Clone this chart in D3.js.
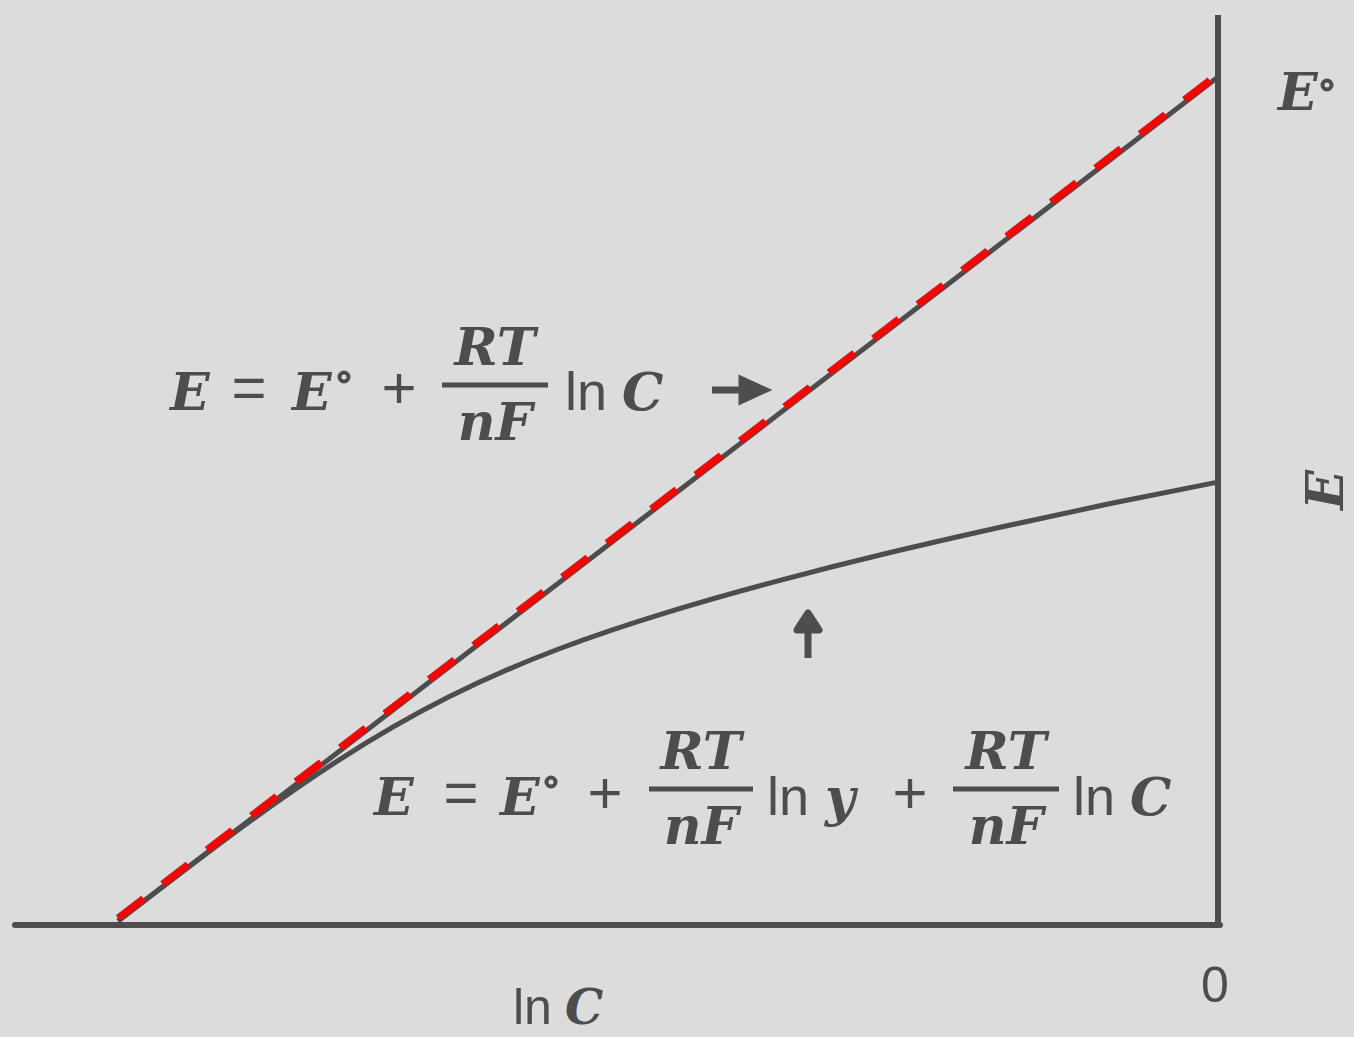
<!DOCTYPE html>
<html>
<head>
<meta charset="utf-8">
<script src="https://cdn.jsdelivr.net/npm/d3@7/dist/d3.min.js"></script>
<style>
  html, body { margin: 0; padding: 0; background: #dcdcdc; }
  svg { display: block; }
</style>
</head>
<body>
<div id="chart"></div>
<script>
// ---- data (lnC on x, E on y, E° = 1) ----
const lnC = [-10, -9, -8, -7, -6, -5, -4, -3, -2, -1, 0];
const eIdeal = [0, 0.1, 0.2, 0.3, 0.4, 0.5, 0.6, 0.7, 0.8, 0.9, 1.0];
const eReal = [0, 0.099, 0.19, 0.265, 0.322, 0.366, 0.403, 0.436, 0.466, 0.494, 0.52];
const xDomain = [-10, 0];
const yDomain = [0, 1];

const width = 1354;
const height = 1037;
const ink = '#4d4d4d';

const svg = d3.select('#chart').append('svg')
  .attr('width', width)
  .attr('height', height);

svg.append('rect')
  .attr('width', width)
  .attr('height', height)
  .attr('fill', '#dcdcdc');

const x = d3.scaleLinear().domain(xDomain).range([118, 1218]);
const y = d3.scaleLinear().domain(yDomain).range([921, 77]);

// ---- axes ----
const axisG = svg.append('g').attr('class', 'axes');
axisG.append('line')
  .attr('x1', 15).attr('x2', x(0) + 2)
  .attr('y1', 925).attr('y2', 925)
  .attr('stroke', ink).attr('stroke-width', 6).attr('stroke-linecap', 'round');
axisG.append('line')
  .attr('x1', x(0)).attr('x2', x(0))
  .attr('y1', 15).attr('y2', 928)
  .attr('stroke', ink).attr('stroke-width', 6);

// ---- lines ----
const line = d3.line().x(d => x(d[0])).y(d => y(d[1]));
const ideal = lnC.map((c, i) => [c, eIdeal[i]]);
const real = lnC.map((c, i) => [c, eReal[i]]);

svg.append('path')
  .attr('d', line(ideal))
  .attr('fill', 'none').attr('stroke', ink).attr('stroke-width', 5);

svg.append('path')
  .attr('d', d3.line().x(d => x(d[0])).y(d => y(d[1])).curve(d3.curveNatural)(real))
  .attr('fill', 'none').attr('stroke', ink).attr('stroke-width', 5);

svg.append('path')
  .attr('d', d3.line().x(d => x(d[0])).y(d => y(d[1]) - 3)(ideal))
  .attr('fill', 'none').attr('stroke', '#ff0000').attr('stroke-width', 7)
  .attr('stroke-dasharray', '32 24');

// ---- text helpers ----
const serif = '"DejaVu Serif", "Liberation Serif", serif';
const sans = '"Liberation Sans", "DejaVu Sans", sans-serif';

function txt(px, py, s, opts = {}) {
  return svg.append('text')
    .attr('x', px).attr('y', py)
    .attr('font-family', opts.family || serif)
    .attr('font-style', opts.italic === false ? 'normal' : 'italic')
    .attr('font-weight', opts.weight || 'bold')
    .attr('font-size', opts.size || 52)
    .attr('text-anchor', opts.anchor || 'start')
    .attr('fill', ink)
    .text(s);
}

// degree mark drawn as a bold little ring next to E
function degree(cx, cy) {
  svg.append('circle')
    .attr('cx', cx).attr('cy', cy).attr('r', 4.5)
    .attr('fill', 'none').attr('stroke', ink).attr('stroke-width', 4);
}

function frac(cx, barY, w) {
  svg.append('line')
    .attr('x1', cx - w / 2).attr('x2', cx + w / 2)
    .attr('y1', barY).attr('y2', barY)
    .attr('stroke', ink).attr('stroke-width', 5);
  txt(cx, barY - 20, 'RT', { anchor: 'middle' });
  txt(cx, barY + 55, 'nF', { anchor: 'middle' });
}

// equation 1
txt(170, 410, 'E');
txt(249, 408, '=', { family: sans, italic: false, anchor: 'middle', weight: 'normal', size: 60 });
txt(292, 410, 'E');
degree(344, 377);
txt(399, 408, '+', { family: sans, italic: false, anchor: 'middle', weight: 'normal', size: 60 });
frac(495, 385, 106);
txt(565, 410, 'ln', { family: sans, italic: false, weight: 'normal', size: 54 });
txt(622, 410, 'C');

// arrow to the right
svg.append('path')
  .attr('d', 'M712,390 L748,390 M742,380 L764,390 L742,400 Z')
  .attr('stroke', ink).attr('stroke-width', 7).attr('fill', ink);

// equation 2
txt(374, 815, 'E');
txt(461, 813, '=', { family: sans, italic: false, anchor: 'middle', weight: 'normal', size: 60 });
txt(500, 815, 'E');
degree(551, 782);
txt(605, 813, '+', { family: sans, italic: false, anchor: 'middle', weight: 'normal', size: 60 });
frac(701, 789, 104);
txt(767, 815, 'ln', { family: sans, italic: false, weight: 'normal', size: 54 });
txt(825, 815, 'y');
txt(910, 813, '+', { family: sans, italic: false, anchor: 'middle', weight: 'normal', size: 60 });
frac(1006, 789, 106);
txt(1073, 815, 'ln', { family: sans, italic: false, weight: 'normal', size: 54 });
txt(1130, 815, 'C');

// up arrow
svg.append('path')
  .attr('d', 'M808,658 L808,628 M797,630 L808,613 L819,630 Z')
  .attr('stroke', ink).attr('stroke-width', 7).attr('fill', ink)
  .attr('stroke-linejoin', 'round');

// axis labels
txt(1278, 110, 'E');
degree(1327, 85);
txt(0, 0, 'E').attr('transform', 'translate(1343,490) rotate(-90)').attr('text-anchor', 'middle');
txt(1215, 1002, '0', { family: sans, italic: false, weight: 'normal', size: 50, anchor: 'middle' });
txt(513, 1024, 'ln', { family: sans, italic: false, weight: 'normal', size: 50 });
txt(565, 1024, 'C', { size: 48 });
</script>
</body>
</html>
